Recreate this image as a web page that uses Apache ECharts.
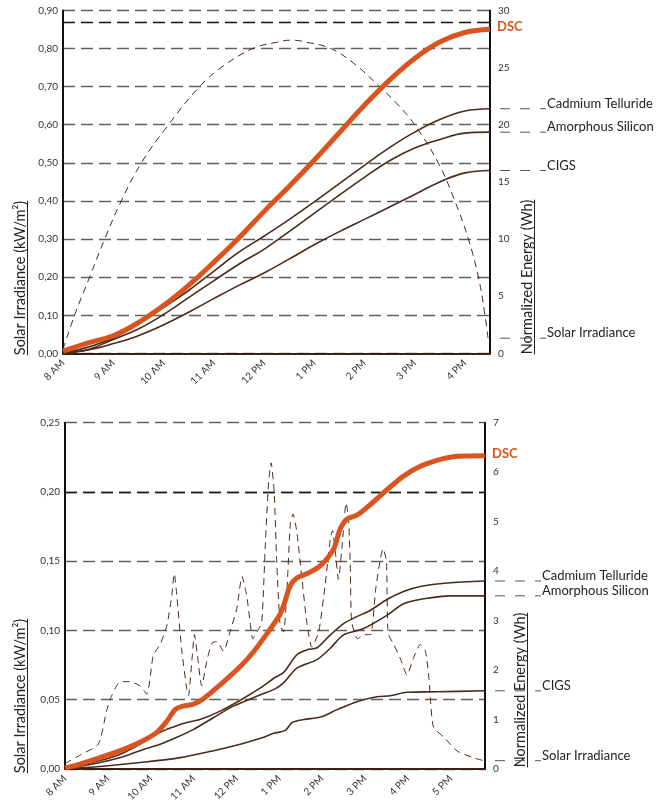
<!DOCTYPE html>
<html><head><meta charset="utf-8">
<script src="https://cdn.jsdelivr.net/npm/echarts@6/dist/echarts.min.js"></script>
<style>html,body{margin:0;padding:0;background:#fff}#c{width:672px;height:804px}</style>
</head><body><div id="c"></div>
<script>
// ---------- tick labels ----------
const hourLabelsTop = ['8 AM','9 AM','10 AM','11 AM','12 PM','1 PM','2 PM','3 PM','4 PM'];
const hourLabelsBottom = ['8 AM','9 AM','10 AM','11 AM','12 PM','1 PM','2 PM','3 PM','4 PM','5 PM'];
const irrTicksTop = ['0,00','0,10','0,20','0,30','0,40','0,50','0,60','0,70','0,80','0,90'];
const irrTicksBottom = ['0,00','0,05','0,10','0,15','0,20','0,25'];
const energyTicksTop = ['0','5','10','15','20','25','30'];
const energyTicksBottom = ['0','1','2','3','4','5','6','7'];

// ---------- top chart data (hours of day) ----------
const timesTop = [8,8.5,9,9.5,10,10.5,11,11.5,12,12.5,13,13.5,14,14.5,15,15.5,16,16.5];
const dscTop   = [0.2,0.93,1.54,2.69,4.18,5.95,7.96,10.1,12.4,14.6,16.9,19.3,21.7,23.9,25.8,27.24,28.07,28.35];
const cdteTop  = [0,0.55,1.35,2.55,4.0,5.5,7.18,8.85,10.25,11.7,13.25,14.85,16.45,18.0,19.35,20.45,21.2,21.4];
const asiTop   = [0,0.35,1.22,2.14,3.4,4.88,6.35,7.8,9.1,10.65,12.25,13.85,15.4,16.85,17.96,18.7,19.27,19.35];
const cigsTop  = [0,0.3,0.86,1.55,2.49,3.6,4.79,5.95,7.03,8.25,9.5,10.65,11.72,12.8,13.9,15.0,15.79,16.0];
const solarTopTimes  = [8.0,8.23,8.53,8.83,9.16,9.56,10.1,10.72,11.2,11.78,12.2,12.55,12.9,13.33,13.8,14.3,14.65,15.0,15.47,15.8,16.07,16.27,16.4,16.46];
const solarTopValues = [0.01,0.1,0.2,0.3,0.4,0.5,0.6,0.7,0.755,0.8,0.815,0.822,0.815,0.8,0.76,0.7,0.655,0.6,0.5,0.4,0.3,0.2,0.1,0.04];
const refLineTop = [0.873];

// ---------- bottom chart data ----------
const dscBotTimes  = [8.0,8.35,8.82,9.29,9.75,10.14,10.38,10.57,10.75,11.0,11.23,11.62,12.09,12.4,12.7,13.0,13.1,13.26,13.41,13.65,13.96,14.27,14.42,14.58,14.81,15.13,15.52,15.9,16.29,16.68,17.15,17.8];
const dscBotValues = [0.02,0.1,0.23,0.37,0.54,0.74,0.97,1.2,1.27,1.31,1.42,1.7,2.07,2.37,2.72,3.1,3.3,3.71,3.86,3.95,4.11,4.45,4.85,5.05,5.13,5.35,5.65,5.92,6.12,6.24,6.32,6.33];
const cdteBotTimes  = [8,8.82,9.29,9.75,10.22,10.53,10.84,11.15,11.62,12.09,12.56,12.9,13.1,13.41,13.65,13.88,14.19,14.5,14.81,15.13,15.52,15.9,16.29,16.92,17.8];
const cdteBotValues = [0,0.17,0.3,0.5,0.74,0.85,0.94,1.0,1.17,1.39,1.64,1.85,1.95,2.31,2.41,2.45,2.71,2.94,3.08,3.21,3.43,3.59,3.69,3.76,3.8];
const asiBotTimes  = [8,8.82,9.29,9.75,10.22,10.61,11.0,11.47,11.93,12.56,12.9,13.1,13.41,13.88,14.19,14.5,14.97,15.52,15.9,16.37,17.0,17.8];
const asiBotValues = [0,0.13,0.23,0.37,0.5,0.64,0.8,1.04,1.27,1.5,1.62,1.74,2.04,2.21,2.44,2.71,2.84,3.11,3.34,3.44,3.5,3.5];
const cigsBotTimes  = [8,8.82,9.75,10.69,11.47,12.09,12.56,12.87,13.14,13.3,13.57,13.96,14.35,14.81,15.28,15.59,15.98,16.68,17.8];
const cigsBotValues = [0,0.05,0.13,0.23,0.37,0.5,0.62,0.72,0.78,0.94,1.0,1.05,1.2,1.36,1.46,1.48,1.55,1.56,1.58];
const solarBotTimes  = [8.0,8.35,8.78,8.97,9.09,9.29,9.52,9.75,9.91,10.06,10.22,10.38,10.49,10.55,10.61,10.72,10.84,10.88,10.96,11.02,11.09,11.19,11.31,11.43,11.54,11.7,11.85,12.01,12.13,12.24,12.32,12.38,12.48,12.59,12.67,12.75,12.81,12.88,12.94,13.02,13.1,13.18,13.26,13.32,13.41,13.53,13.65,13.76,13.92,14.07,14.19,14.24,14.31,14.38,14.46,14.56,14.62,14.66,14.69,14.83,14.97,15.13,15.25,15.36,15.42,15.5,15.54,15.67,15.82,15.98,16.13,16.29,16.41,16.49,16.53,16.6,16.84,17.15,17.54,17.77];
const solarBotValues = [0.004,0.01,0.018,0.042,0.053,0.063,0.063,0.06,0.054,0.082,0.09,0.104,0.125,0.141,0.125,0.087,0.058,0.053,0.078,0.097,0.082,0.06,0.078,0.091,0.092,0.085,0.099,0.116,0.139,0.125,0.106,0.094,0.099,0.106,0.159,0.207,0.221,0.2,0.15,0.104,0.099,0.13,0.178,0.184,0.171,0.137,0.104,0.088,0.099,0.133,0.166,0.172,0.156,0.137,0.159,0.192,0.178,0.142,0.106,0.094,0.097,0.097,0.13,0.152,0.159,0.15,0.098,0.09,0.08,0.068,0.08,0.09,0.085,0.066,0.049,0.03,0.023,0.013,0.008,0.006];
const refLineBottom = [0.20];

const labelsTop = ['Cadmium Telluride','Amorphous Silicon','CIGS','Solar Irradiance'];

// ---------- styles ----------
const ORANGE = '#d9541e', BROWN = '#4b2a17', FONT = 'Lato';
const gridDash = {color:'#5f5f5f', type:[12,6], width:1.3};

function pairs(t, v){ return t.map((x,i)=>[x, v[i]]); }

function xAxis(gi, max, labels){
  return {type:'value', gridIndex:gi, min:8, max:max, interval:1,
    axisLine:{show:true, lineStyle:{color:'#3a2212', width:2}},
    axisTick:{show:false}, splitLine:{show:false},
    axisLabel:{rotate:45, margin:8, fontSize:10, fontFamily:FONT, color:'#333',
      formatter:v=>{const i=Math.round(v-8); return (Math.abs(v-8-i)<1e-6 && labels[i])?labels[i]:'';}}};
}
function yAxis(gi, pos, max, interval, labels, split){
  return {type:'value', gridIndex:gi, position:pos, min:0, max:max, interval:interval,
    axisLine:{show:true, lineStyle:{color:'#111', width:2}},
    axisTick:{show:false},
    splitLine:{show:split, lineStyle:gridDash},
    axisLabel:{fontSize:10, fontFamily:FONT, color:'#333', margin: pos==='left'?5:8,
      formatter:v=>labels[Math.round(v/interval)]}};
}
function energy(name, xi, yi, data, isDsc, smooth){
  return {name, type:'line', xAxisIndex:xi, yAxisIndex:yi, data, symbol:'none', smooth:smooth,
    lineStyle:{color:isDsc?ORANGE:BROWN, width:isDsc?5:1.6}, z:isDsc?5:4,
    endLabel:isDsc?{show:true, formatter:'DSC', color:ORANGE, fontWeight:'bold', fontSize:13, fontFamily:FONT, distance:7, offset:[0,-2]}:undefined};
}
function solar(xi, yi, data, ref, smooth){
  return {name:'Solar Irradiance', type:'line', xAxisIndex:xi, yAxisIndex:yi, data, symbol:'none', smooth:smooth,
    lineStyle:{color:BROWN, width:1, type:[7,5]}, z:3,
    markLine:{silent:true, symbol:'none', label:{show:false}, lineStyle:{color:'#151515', type:[12,6], width:1.3},
      data:ref.map(v=>({yAxis:v}))}};
}

const chart = echarts.init(document.getElementById('c'), null, {renderer:'canvas'});
chart.setOption({
  animation:false,
  grid:[{left:63, top:10.4, width:427, height:343},{left:65, top:422.7, width:420, height:349}],
  xAxis:[xAxis(0,16.5,hourLabelsTop), xAxis(1,17.8,hourLabelsBottom)],
  yAxis:[yAxis(0,'left',0.9,0.1,irrTicksTop,true), yAxis(0,'right',30,5,energyTicksTop,false),
         yAxis(1,'left',0.25,0.05,irrTicksBottom,true), yAxis(1,'right',7,1,energyTicksBottom,false)],
  series:[
    solar(0,0,pairs(solarTopTimes,solarTopValues),refLineTop,0.4),
    energy('CIGS',0,1,pairs(timesTop,cigsTop),false,0.4),
    energy('Amorphous Silicon',0,1,pairs(timesTop,asiTop),false,0.4),
    energy('Cadmium Telluride',0,1,pairs(timesTop,cdteTop),false,0.4),
    energy('DSC',0,1,pairs(timesTop,dscTop),true,0.4),
    solar(1,2,pairs(solarBotTimes,solarBotValues),refLineBottom,0.2),
    energy('CIGS',1,3,pairs(cigsBotTimes,cigsBotValues),false,0.3),
    energy('Amorphous Silicon',1,3,pairs(asiBotTimes,asiBotValues),false,0.3),
    energy('Cadmium Telluride',1,3,pairs(cdteBotTimes,cdteBotValues),false,0.3),
    energy('DSC',1,3,pairs(dscBotTimes,dscBotValues),true,0.3)
  ]
});

// ---------- annotations positioned through the library's scales ----------
const ctx = document.createElement('canvas').getContext('2d');
function textW(t, f){ ctx.font = f; return ctx.measureText(t).width; }
const g = [];
function axisName(text, cx, cy){
  const f = '14.5px ' + FONT, w = textW(text, f);
  g.push({type:'text', x:cx, y:cy, rotation:Math.PI/2, silent:true,
    style:{text, font:f, fill:'#222', align:'center', verticalAlign:'middle', textAlign:'center', textVerticalAlign:'middle'}});
  g.push({type:'line', silent:true, shape:{x1:cx+7.5, y1:cy-w/2, x2:cx+7.5, y2:cy+w/2}, style:{stroke:'#222', lineWidth:1}});
}
function leader(text, xi, yi, xmax, value, labelX){
  const ax = chart.convertToPixel({xAxisIndex:xi}, xmax);
  const y = chart.convertToPixel({yAxisIndex:yi}, value);
  g.push({type:'line', silent:true, shape:{x1:ax+10, y1:y, x2:labelX, y2:y}, style:{stroke:'#555', lineWidth:1, lineDash:[10,10]}});
  g.push({type:'text', x:labelX+1, y:y-5, silent:true,
    style:{text, font:'13px '+FONT, fill:'#222', align:'left', verticalAlign:'middle', textAlign:'left', textVerticalAlign:'middle'}});
}
axisName('Solar Irradiance (kW/m²)', 20, 278);
axisName('Normalized Energy (Wh)', 527, 277);
axisName('Solar Irradiance (kW/m²)', 20, 696);
axisName('Normalized Energy (Wh)', 520, 690);

leader(labelsTop[0],0,1,16.5,cdteTop[cdteTop.length-1],546);
leader(labelsTop[1],0,1,16.5,asiTop[asiTop.length-1],546);
leader(labelsTop[2],0,1,16.5,cigsTop[cigsTop.length-1],546);
leader(labelsTop[3],0,0,16.5,solarTopValues[solarTopValues.length-1],546);
leader(labelsTop[0],1,3,17.8,cdteBotValues[cdteBotValues.length-1],541);
leader(labelsTop[1],1,3,17.8,asiBotValues[asiBotValues.length-1],541);
leader(labelsTop[2],1,3,17.8,cigsBotValues[cigsBotValues.length-1],541);
leader(labelsTop[3],1,2,17.8,solarBotValues[solarBotValues.length-1],541);
chart.setOption({graphic:g});
</script></body></html>
